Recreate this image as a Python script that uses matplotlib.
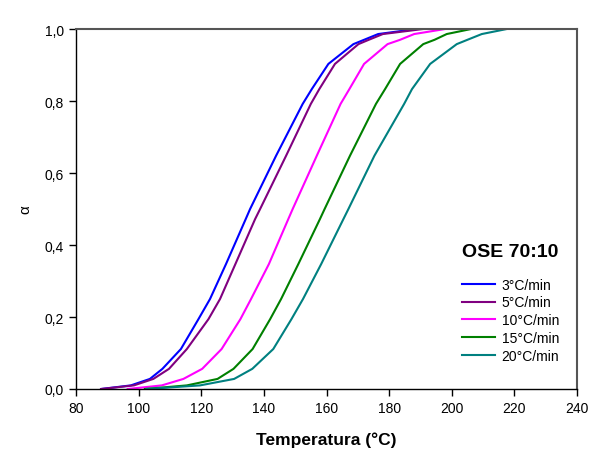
import matplotlib
matplotlib.use("Agg")
import matplotlib.pyplot as plt
from matplotlib.ticker import FuncFormatter

# Conversion levels (alpha) at which the temperatures were read
alpha = [0, 0.01, 0.028, 0.056, 0.111, 0.194, 0.25, 0.347, 0.472, 0.5,
         0.648, 0.792, 0.833, 0.903, 0.958, 0.97, 0.986, 1.0]

# Temperatures (°C) for each heating rate
T_3 = [88, 97.5, 103.6, 107.6, 113.5, 119.1, 122.8, 127.9, 134.2, 135.6,
       143.9, 152.4, 155.3, 160.6, 168.6, 172.0, 176.5, 188.8]
T_5 = [88, 98.5, 104.7, 109.7, 115.4, 122.3, 126.0, 130.9, 137.2, 138.8,
       147.1, 155.0, 157.7, 162.7, 170.2, 173.5, 178.0, 190.9]
T_10 = [96.5, 107.4, 114.3, 120.3, 126.5, 132.5, 135.9, 141.6, 147.8, 149.2,
        156.9, 164.5, 167.3, 172.0, 179.5, 183.5, 188.0, 197.9]
T_15 = [102, 115.4, 125.2, 130.3, 136.4, 142.0, 145.5, 151.0, 157.9, 159.4,
        167.5, 175.8, 178.7, 183.5, 190.9, 194.5, 198.4, 206.2]
T_20 = [102.5, 119.6, 130.5, 136.3, 143.0, 148.8, 152.5, 158.3, 165.4, 167.0,
        175.3, 184.8, 187.3, 193.1, 201.6, 205.0, 209.6, 217.6]

labels = ["3°C/min", "5°C/min", "10°C/min", "15°C/min", "20°C/min"]
colors = ["#0000FF", "#800080", "#FF00FF", "#008000", "#008080"]
series = [T_3, T_5, T_10, T_15, T_20]
legend_title = "OSE 70:10"

x_ticks = [80, 100, 120, 140, 160, 180, 200, 220, 240]
y_ticks = [0.0, 0.2, 0.4, 0.6, 0.8, 1.0]

plt.rcParams['font.family'] = ['Liberation Sans', 'DejaVu Sans']

fig = plt.figure(figsize=(5.89, 4.52), dpi=100)
ax = fig.add_axes([76/589, 62/452, 501/589, 360/452])

for T, lab, c in zip(series, labels, colors):
    ax.plot(T, alpha, color=c, lw=1.5, label=lab)

ax.set_xlim(80, 240)
ax.set_ylim(0, 1)
ax.set_xticks(x_ticks)
ax.set_yticks(y_ticks)
ax.yaxis.set_major_formatter(FuncFormatter(lambda v, p: f"{v:.1f}".replace('.', ',')))
ax.tick_params(direction='out', length=5, width=1, labelsize=10, colors='black')

for s in ['left', 'bottom']:
    ax.spines[s].set_color('black')
    ax.spines[s].set_linewidth(1.0)
for s in ['top', 'right']:
    ax.spines[s].set_color('#555555')
    ax.spines[s].set_linewidth(1.5)

ax.set_xlabel("Temperatura (°C)", fontsize=12.5, fontweight='bold', labelpad=12)
ax.set_ylabel("α", fontsize=11, labelpad=9)

ax.text(0.770, 0.383, legend_title, transform=ax.transAxes, fontsize=14,
        fontweight='bold', ha='left', va='center')
ax.legend(loc='upper left', bbox_to_anchor=(0.759, 0.325), frameon=False,
          fontsize=10, handlelength=2.37, handletextpad=0.5,
          labelspacing=0.28, borderaxespad=0)

fig.savefig("out.png", dpi=100, facecolor='white')
